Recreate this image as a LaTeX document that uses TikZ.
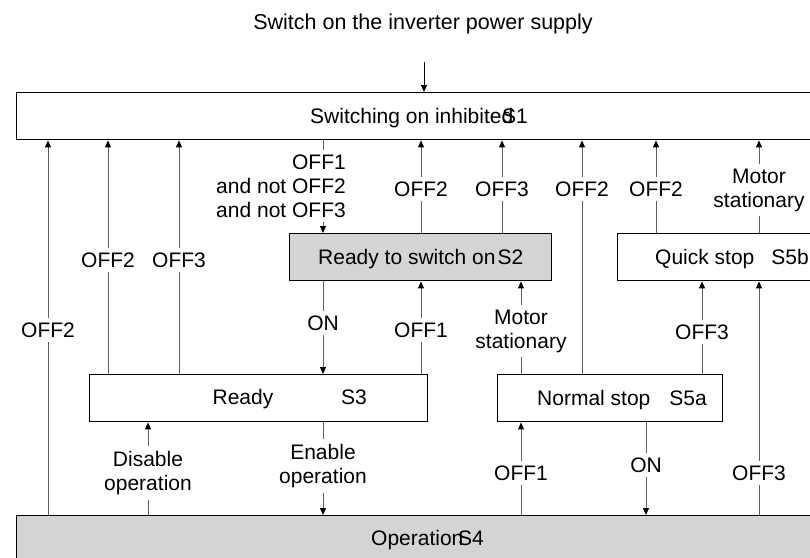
\documentclass[tikz,border=0pt]{standalone}
\usepackage{fontspec}
\setmainfont{Liberation Sans}
\usetikzlibrary{arrows.meta}
\definecolor{boxgray}{RGB}{212,212,212}
\definecolor{linegray}{RGB}{95,95,95}
\newcommand{\lbfont}{\fontsize{21}{24}\selectfont}
\begin{document}
\begin{tikzpicture}[x=1pt,y=-1pt,
  box/.style={draw=black,line width=1.4pt,inner sep=0pt,anchor=north west},
  txt/.style={inner sep=0pt,font=\lbfont},
  lbl/.style={fill=white,inner xsep=1pt,inner ysep=5pt,align=center,font=\lbfont},
  conn/.style={draw=linegray,line width=0.9pt},
  arr/.style={conn,-{Triangle[length=7pt,width=6pt,color=black]}},
  ]
\useasboundingbox (0,0) rectangle (810,557);
% boxes
\node[box,minimum width=800pt,minimum height=47pt] (S1) at (15.7,92) {};
\node[box,fill=boxgray,minimum width=262pt,minimum height=47pt] (S2) at (289,233) {};
\node[box,minimum width=200pt,minimum height=47pt] (S5b) at (617,233) {};
\node[box,minimum width=338pt,minimum height=47pt] (S3) at (89,374) {};
\node[box,minimum width=225pt,minimum height=47pt] (S5a) at (497,374) {};
\node[box,fill=boxgray,minimum width=800pt,minimum height=50pt] (S4) at (16,515) {};
% box texts
\node[txt,anchor=base west] (t1a) at (310,123.5) {Switching on inhibited};
\node[txt,anchor=base west] (t1b) at (502,123.5) {S1};
\node[txt,anchor=base west] (t2) at (318,264.5) {Ready to switch on\kern2pt S2};
\node[txt,anchor=base west] (t5b) at (655,264.5) {Quick stop\hspace{17pt}S5b};
\node[txt,anchor=base] (t3a) at (243,404.5) {Ready};
\node[txt,anchor=base] (t3b) at (354,404.5) {S3};
\node[txt,anchor=base west] (t5a) at (537,405.5) {Normal stop\hspace{19pt}S5a};
\node[txt,anchor=base west] (t4a) at (371,545.5) {Operation};
\node[txt,anchor=base west] (t4b) at (458,545.5) {S4};
% title
\node[txt,anchor=base,font=\fontsize{21.5}{24}\selectfont] (title) at (423,29.5) {Switch on the inverter power supply};
\coordinate (top) at (424,62);
\draw[arr,draw=black] (top) -- (S1.north -| top);
% connectors to S1
\draw[arr] (S4.north -| 48,0) -- (S1.south -| 48,0);
\draw[arr] (S3.north -| 108,0) -- (S1.south -| 108,0);
\draw[arr] (S3.north -| 179,0) -- (S1.south -| 179,0);
\draw[arr] (S1.south -| 323,0) -- (S2.north -| 323,0);
\draw[arr] (S2.north -| 421,0) -- (S1.south -| 421,0);
\draw[arr] (S2.north -| 502,0) -- (S1.south -| 502,0);
\draw[arr] (S5a.north -| 582,0) -- (S1.south -| 582,0);
\draw[arr] (S5b.north -| 656,0) -- (S1.south -| 656,0);
\draw[arr] (S5b.north -| 759,0) -- (S1.south -| 759,0);
% middle level
\draw[arr] (S2.south -| 323,0) -- (S3.north -| 323,0);
\draw[arr] (S3.north -| 421,0) -- (S2.south -| 421,0);
\draw[arr] (S5a.north -| 521,0) -- (S2.south -| 521,0);
\draw[arr] (S5a.north -| 702,0) -- (S5b.south -| 702,0);
\draw[arr] (S4.north -| 759,0) -- (S5b.south -| 759,0);
% bottom level
\draw[arr] (S4.north -| 148,0) -- (S3.south -| 148,0);
\draw[arr] (S3.south -| 323,0) -- (S4.north -| 323,0);
\draw[arr] (S4.north -| 521,0) -- (S5a.south -| 521,0);
\draw[arr] (S5a.south -| 646,0) -- (S4.north -| 646,0);
% labels
\node[lbl] (l1) at (48,330) {OFF2};
\node[lbl] (l2) at (108,260) {OFF2};
\node[lbl] (l3) at (179,260) {OFF3};
\node[lbl,align=right,anchor=east] (l4) at (347,186) {OFF1\\and not OFF2\\and not OFF3};
\node[lbl] (l5) at (421,189) {OFF2};
\node[lbl] (l6) at (502,189) {OFF3};
\node[lbl] (l7) at (582,189) {OFF2};
\node[lbl] (l8) at (656,189) {OFF2};
\node[lbl] (l9) at (759,190) {Motor\\stationary};
\node[lbl] (l10) at (323,323) {ON};
\node[lbl] (l11) at (421,330) {OFF1};
\node[lbl] (l12) at (521,331) {Motor\\stationary};
\node[lbl] (l13) at (702,332) {OFF3};
\node[lbl] (l14) at (759,473) {OFF3};
\node[lbl] (l15) at (148,473) {Disable\\operation};
\node[lbl] (l16) at (323,466) {Enable\\operation};
\node[lbl] (l17) at (521,473) {OFF1};
\node[lbl] (l18) at (646,465) {ON};
\end{tikzpicture}
\end{document}
